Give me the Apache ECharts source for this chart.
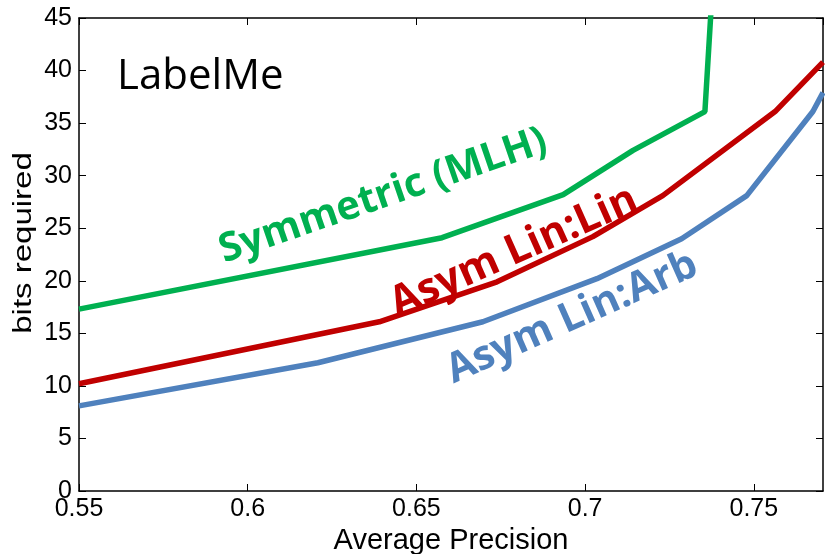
<!DOCTYPE html>
<html><head><meta charset="utf-8">
<script src="https://cdn.jsdelivr.net/npm/echarts@6/dist/echarts.min.js"></script>
<style>html,body{margin:0;padding:0;background:#fff}#c{width:825px;height:554px}</style>
</head><body><div id="c"></div>
<script>
const symmetricMLH = [[0.55,17.3],[0.6576,24.1],[0.6935,28.2],[0.7142,32.4],[0.7355,36.1],[0.7385,52]];
const asymLinLin = [[0.55,10.2],[0.639,16.1],[0.6739,19.9],[0.7023,24.2],[0.723,28.1],[0.7563,36.1],[0.7705,40.8]];
const asymLinArb = [[0.55,8.1],[0.6208,12.2],[0.6697,16.1],[0.7035,20.2],[0.7286,24.0],[0.7479,28.1],[0.7675,36.1],[0.7705,37.9]];
const xTicks = {min:0.55, max:0.7705, interval:0.05};
const yTicks = {min:0, max:45, interval:5};
const names = ['Symmetric (MLH)','Asym Lin:Lin','Asym Lin:Arb'];
const colors = ['#00b050','#c00000','#4f81bd'];

const chart = echarts.init(document.getElementById('c'));
const baseX = {type:'value', min:xTicks.min, max:xTicks.max, interval:xTicks.interval,
  axisLine:{show:true,onZero:false,lineStyle:{color:'#000',width:1.5}},
  axisTick:{show:true,inside:true,length:7,lineStyle:{color:'#000'}},
  splitLine:{show:false}};
const baseY = {type:'value', min:yTicks.min, max:yTicks.max, interval:yTicks.interval,
  axisLine:{show:true,onZero:false,lineStyle:{color:'#000',width:1.5}},
  axisTick:{show:true,inside:true,length:7,lineStyle:{color:'#000'}},
  splitLine:{show:false}};
chart.setOption({
  animation:false,
  grid:{left:79, right:2, top:18, bottom:63, containLabel:false, outerBoundsMode:'none'},
  xAxis:[
    Object.assign({}, baseX, {position:'bottom', name:'Average Precision', nameLocation:'middle', nameGap:34,
      nameTextStyle:{fontFamily:'Liberation Sans', fontSize:29, color:'#000'},
      axisLabel:{margin:6, showMaxLabel:false, formatter:v=>String(+v.toFixed(2)), fontFamily:'Liberation Sans', fontSize:25, color:'#000'}}),
    Object.assign({}, baseX, {position:'top', axisLabel:{show:false}})
  ],
  yAxis:[
    Object.assign({}, baseY, {position:'left',
      axisLabel:{margin:7, fontFamily:'Liberation Sans', fontSize:25, color:'#000'}}),
    Object.assign({}, baseY, {position:'right', axisLabel:{show:false}})
  ],
  series:[
    {name:names[0], type:'line', data:symmetricMLH, showSymbol:false, clip:true, lineStyle:{color:colors[0],width:5.5}},
    {name:names[1], type:'line', data:asymLinLin, showSymbol:false, clip:true, lineStyle:{color:colors[1],width:5.5}},
    {name:names[2], type:'line', data:asymLinArb, showSymbol:false, clip:true, lineStyle:{color:colors[2],width:5.5}}
  ],
  graphic:[
    {type:'text', x:24, y:243, rotation:Math.PI/2, scaleX:1.32, style:{text:'bits required', font:'25px "Liberation Sans"', fill:'#000', align:'center', verticalAlign:'middle'}},
    {type:'text', left:117, top:56, style:{text:'LabelMe', font:'42px "Open Sans", Lato, sans-serif', fill:'#000'}},
    {type:'text', x:383, y:196, rotation:19*Math.PI/180, style:{text:names[0], font:'bold 40px "Open Sans", Lato, sans-serif', fill:colors[0], align:'center', verticalAlign:'middle'}},
    {type:'text', x:514, y:252, rotation:24*Math.PI/180, style:{text:names[1], font:'bold 42px "Open Sans", Lato, sans-serif', fill:colors[1], align:'center', verticalAlign:'middle'}},
    {type:'text', x:572, y:318, rotation:24*Math.PI/180, style:{text:names[2], font:'bold 41px "Open Sans", Lato, sans-serif', fill:colors[2], align:'center', verticalAlign:'middle'}}
  ]
});
</script></body></html>
